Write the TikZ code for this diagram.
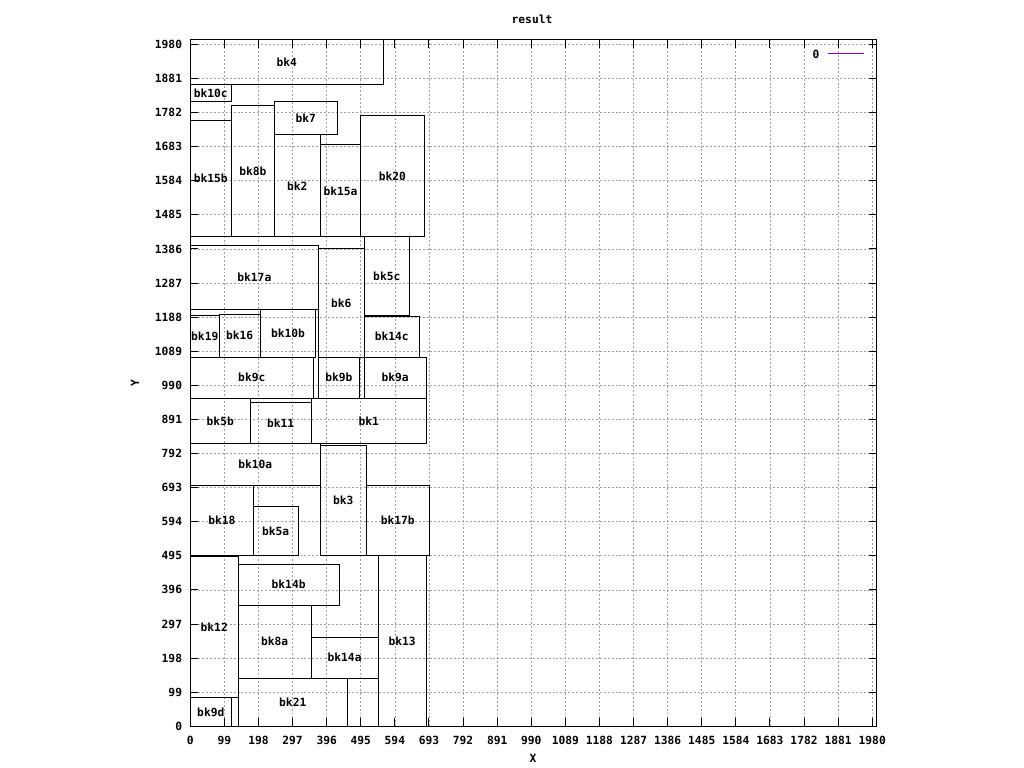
\documentclass[tikz,border=0pt]{standalone}
\usepackage{fontspec}
\setmonofont{DejaVu Sans Mono}
\definecolor{lineviolet}{RGB}{148,0,211}
\begin{document}
\begin{tikzpicture}[x=0.025cm,y=0.025cm,
		every node/.style={font=\ttfamily\bfseries\fontsize{8}{9}\selectfont,inner sep=0pt},
		blk/.style={draw=black,line width=0.7pt},
		frame/.style={draw=black,line width=0.8pt},
		gridline/.style={draw=gray!75,line width=0.5pt,dash pattern=on 1.4pt off 1.4pt},
		ticmark/.style={draw=black,line width=0.7pt},
		blklabel/.style={anchor=center},
		keyline/.style={draw=lineviolet,line width=0.8pt}]
	\useasboundingbox (0,0) rectangle (1024,768);
	\fill[white] (0,0) rectangle (1024,768);
	\node (title) at (532,748.5) {result};
	\node (xlabel) at (533,10) {X};
	\node[rotate=90] (ylabel) at (135,384.5) {Y};
	
	\begin{scope}[shift={(190.3,41.7)},scale=0.3444]
		% grid
		\foreach \v in {99,198,...,1980} {
			\draw[gridline] (\v,0) -- (\v,1993);
			\draw[gridline] (0,\v) -- (1993,\v);
		}
		% tics on all four sides
		\foreach \v in {99,198,...,1980} {
			\draw[ticmark] (\v,0) -- (\v,23.2);
			\draw[ticmark] (\v,1993) -- (\v,1969.8);
			\draw[ticmark] (0,\v) -- (23.2,\v);
			\draw[ticmark] (1993,\v) -- (1969.8,\v);
		}
		\foreach \v in {0,99,...,1980} {
			\node[anchor=east] (yl\v) at (-23.2,\v) {\v};
			\node (xl\v) at (\v,-41) {\v};
		}
		% blocks
		\foreach \n/\a/\b/\c/\d in {
			bk4/0/1863/560/1993, bk10c/0/1814/119/1863, bk15b/0/1421/119/1759,
			bk8b/119/1421/244/1802, bk7/244/1717/427/1814, bk2/244/1421/377/1717,
			bk15a/377/1421/495/1688, bk20/495/1421/679/1774, bk5c/505/1192/636/1421,
			bk17a/0/1211/372/1396, bk6/372/1072/505/1386, bk19/0/1072/84/1192,
			bk16/84/1072/203/1196, bk10b/203/1072/364/1211, bk14c/505/1072/665/1190,
			bk9c/0/953/357/1072, bk9b/372/953/491/1072, bk9a/505/953/685/1072,
			bk5b/0/820/174/953, bk11/174/820/351/939, bk1/351/820/685/953,
			bk10a/0/700/377/820, bk3/377/497/511/815, bk18/0/497/183/700,
			bk5a/183/497/313/637, bk17b/511/497/694/700, bk12/0/84/139/492,
			bk9d/0/0/119/84, bk21/139/0/456/139, bk14b/139/352/432/471,
			bk8a/139/139/351/352, bk14a/351/139/545/259, bk13/545/0/685/496} {
			\draw[blk] (\a,\b) rectangle (\c,\d);
			\node[blklabel] (\n) at ({(\a+\c)/2},{(\b+\d)/2}) {\n};
		}
		\draw[frame] (0,0) rectangle (1993,1993);
	\end{scope}
	
	% key
	\node (key0) at (816,714) {0};
	\coordinate (keyA) at (828,714.7);
	\coordinate (keyB) at (864,714.7);
	\draw[keyline] (keyA) -- (keyB);
\end{tikzpicture}
\end{document}
